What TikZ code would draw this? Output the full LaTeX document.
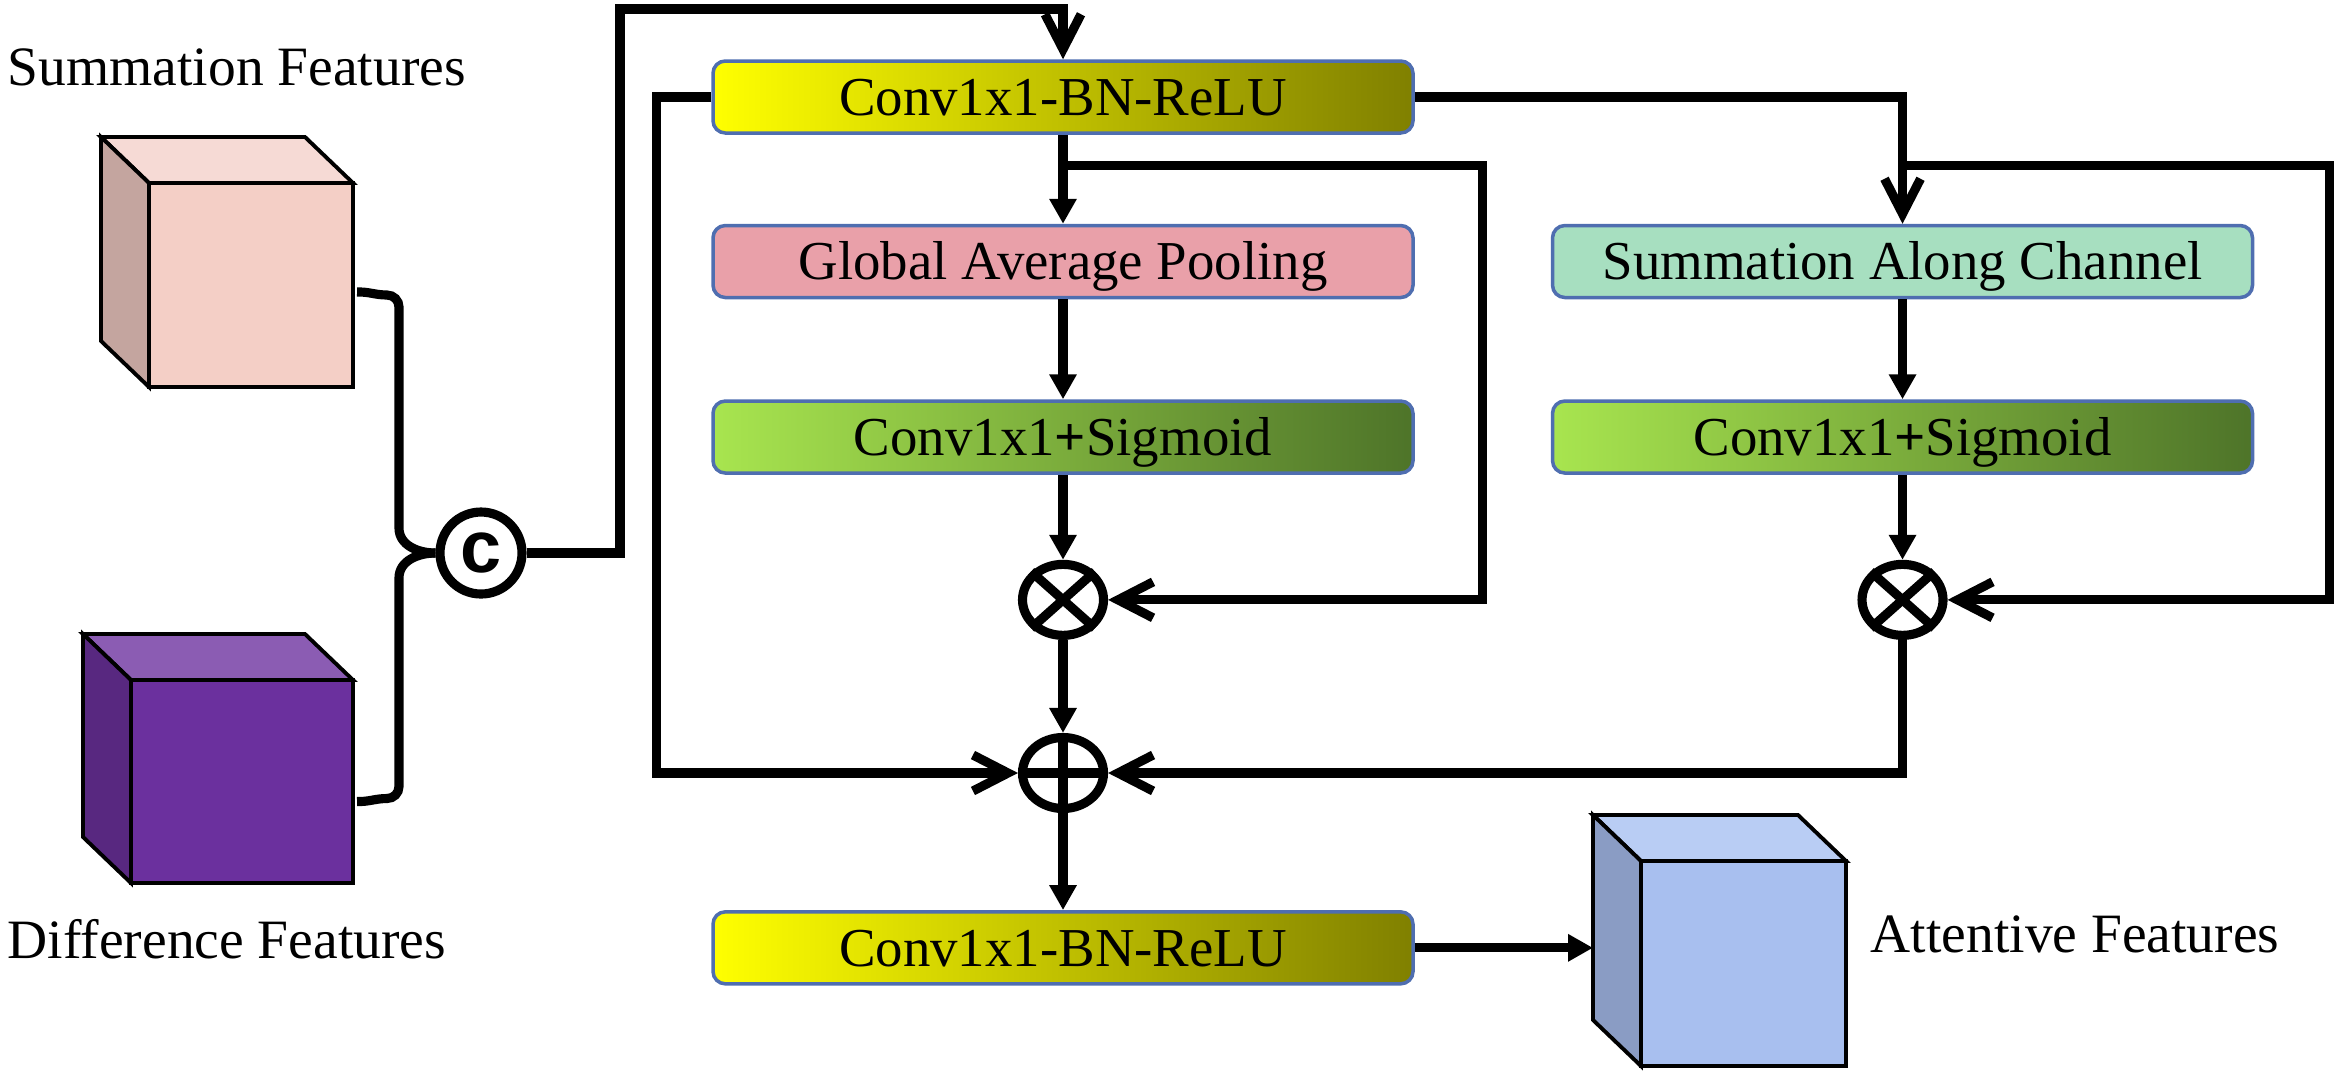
\documentclass[tikz,border=0pt]{standalone}
\usepackage{fontspec}
\setmainfont{Liberation Serif}
\newfontfamily\symfont{Liberation Sans}
\usetikzlibrary{shapes.geometric, arrows.meta, positioning}
\definecolor{boxborder}{HTML}{4F6EB0}
\definecolor{convyellow}{HTML}{FFFF00}
\definecolor{convolive}{HTML}{808000}
\definecolor{gappink}{HTML}{E9A0A9}
\definecolor{summint}{HTML}{A7DFC0}
\definecolor{siglight}{HTML}{A8E54F}
\definecolor{sigdark}{HTML}{4E7429}
\definecolor{pinkfront}{HTML}{F4CFC6}
\definecolor{pinktop}{HTML}{F6DAD5}
\definecolor{pinkside}{HTML}{C4A59F}
\definecolor{purplefront}{HTML}{6B309E}
\definecolor{purpletop}{HTML}{8B5CB3}
\definecolor{purpleside}{HTML}{582880}
\definecolor{bluefront}{HTML}{A8BFEF}
\definecolor{bluetop}{HTML}{B9CDF4}
\definecolor{blueside}{HTML}{8A9CC4}

\begin{document}
\begin{tikzpicture}[
  x=0.1mm, y=-0.1mm,
  node distance=0.89cm and 1.36cm,
  box/.style={rectangle, rounded corners=3.5pt, draw=boxborder, line width=1pt, minimum width=7cm, minimum height=0.72cm, text height=10.5pt, text depth=0pt, inner sep=0pt, font=\fontsize{15.6}{18}\selectfont},
  convbox/.style={box, left color=convyellow, right color=convolive},
  gapbox/.style={box, fill=gappink},
  sumbox/.style={box, fill=summint},
  sigbox/.style={box, left color=siglight, right color=sigdark},
  opnode/.style={ellipse, draw, line width=2.6pt, minimum width=0.81cm, minimum height=0.71cm, inner sep=0pt},
  catnode/.style={circle, draw, line width=2.6pt, minimum size=0.82cm, inner sep=0pt, font=\symfont\bfseries\fontsize{21}{21}\selectfont},
  cubeface/.style={rectangle, draw, line width=1.1pt, outer sep=0pt, inner sep=0pt},
  featlabel/.style={font=\fontsize{15.8}{19}\selectfont, inner sep=0pt, anchor=base west},
  conn/.style={line width=2.6pt},
  arr/.style={conn, -{Triangle[length=0.25cm, width=0.26cm]}},
  openarr/.style={conn, -{Straight Barb[length=0.35cm, width=0.36cm]}},
]
\useasboundingbox (0,0) rectangle (2340,1075);

%% Input features
\node[cubeface, fill=pinkfront, minimum width=2.04cm, minimum height=2.04cm] (sumfeat) at (251,285) {};
\node[cubeface, fill=purplefront, minimum width=2.22cm, minimum height=2.03cm] (difffeat) at (242,781.5) {};
\node[featlabel] (sumlbl) at (7,85) {Summation Features};
\node[featlabel] (difflbl) at (7,958) {Difference Features};

%% Concatenation
\node[catnode] (concat) at (481,553) {c};

%% Left branch
\node[convbox] (conv1) at (1063,97) {Conv1x1-BN-ReLU};
\node[gapbox, below=of conv1] (gap) {Global Average Pooling};
\node[sigbox, below=1cm of gap] (sigL) {Conv1x1\textbf{+}Sigmoid};
\node[opnode, below=0.85cm of sigL] (mulL) {};

%% Right branch
\node[sumbox, right=of gap] (sumch) {Summation Along Channel};
\node[sigbox, below=1cm of sumch] (sigR) {Conv1x1\textbf{+}Sigmoid};
\node[opnode, below=0.85cm of sigR] (mulR) {};

%% Fusion
\node[opnode, below=0.93cm of mulL] (add) {};
\node[convbox, below=0.97cm of add] (conv2) {Conv1x1-BN-ReLU};

%% Output
\node[cubeface, fill=bluefront, minimum width=2.05cm, minimum height=2.05cm] (attfeat) at (1743.5,963.5) {};
\node[featlabel] (attlbl) at (1870,952) {Attentive Features};

%% Cube faces
\foreach \cube/\topc/\sidec in {sumfeat/pinktop/pinkside, difffeat/purpletop/purpleside, attfeat/bluetop/blueside} {
  \filldraw[line width=1.1pt, fill=\topc] (\cube.north west) -- ++(-48,-46) -- ([shift={(-48,-46)}]\cube.north east) -- (\cube.north east) -- cycle;
  \filldraw[line width=1.1pt, fill=\sidec] (\cube.north west) -- ++(-48,-46) -- ([shift={(-48,-46)}]\cube.south west) -- (\cube.south west) -- cycle;
}

%% Operator marks
\foreach \m in {mulL, mulR} {
  \draw[conn] (\m.north west) -- (\m.south east) (\m.north east) -- (\m.south west);
}
\draw[conn] (add.north) -- (add.south) (add.west) -- (add.east);

%% Helper points
\coordinate (outerL) at (620,9);
\coordinate (innerL) at ([xshift=-0.55cm]conv1.west);
\coordinate (splitL) at ([yshift=-0.31cm]conv1.south);
\coordinate (splitR) at (splitL -| sumch.north);
\coordinate (loopL) at ([xshift=0.68cm]gap.east);
\coordinate (loopR) at ([xshift=0.75cm]sumch.east);

%% Arrows
\draw[conn] ([shift={(4,7)}]sumfeat.east) to[out=2, in=180] ++(30,3) to[out=0, in=90] ++(12,12) -- (399,528) to[out=-90, in=180] (concat.west);
\draw[conn] ([shift={(4,20)}]difffeat.east) to[out=-2, in=180] ++(30,-3) to[out=0, in=-90] ++(12,-12) -- (399,578) to[out=90, in=180] (concat.west);
\draw[openarr] (concat.east) -| (outerL) -| (conv1.north);
\draw[openarr] (conv1.west) -| (innerL |- add) -- (add.west);
\draw[openarr] (conv1.east) -| (sumch.north);
\draw[arr] (conv1.south) -- (gap.north);
\draw[arr] (gap) -- (sigL);
\draw[arr] (sigL) -- (mulL);
\draw[openarr] (splitL) -| (loopL) |- (mulL.east);
\draw[arr] (sumch) -- (sigR);
\draw[arr] (sigR) -- (mulR);
\draw[openarr] (splitR) -| (loopR) |- (mulR.east);
\draw[arr] (mulL) -- (add);
\draw[openarr] (mulR.south) |- (add.east);
\draw[arr] (add) -- (conv2);
\draw[arr] (conv2.east) -- ([xshift=-0.48cm]conv2.east -| attfeat.west);

\end{tikzpicture}
\end{document}
